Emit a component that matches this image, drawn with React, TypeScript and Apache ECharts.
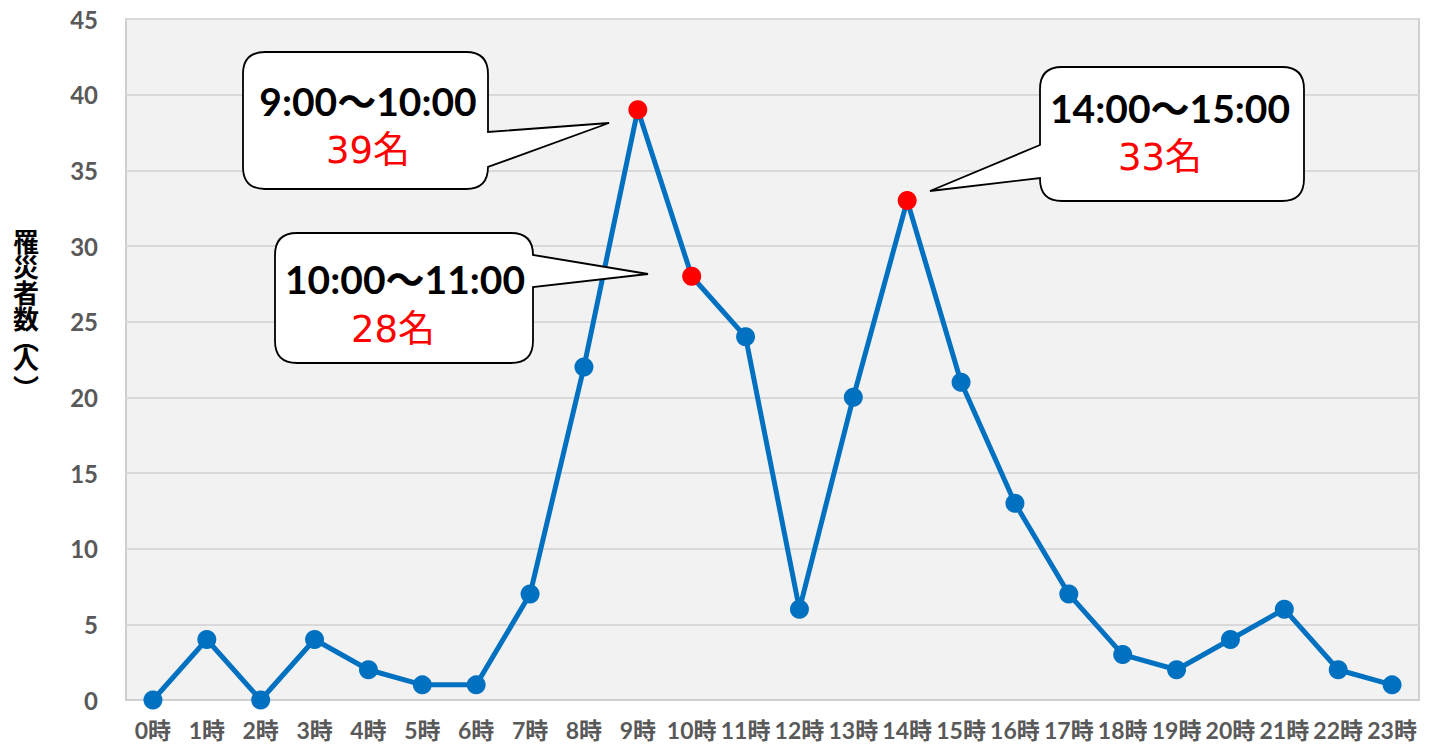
import React, { useEffect, useRef } from "react";
import * as echarts from "echarts";

const hours = ["0時","1時","2時","3時","4時","5時","6時","7時","8時","9時","10時","11時","12時","13時","14時","15時","16時","17時","18時","19時","20時","21時","22時","23時"];
const victims = [0, 4, 0, 4, 2, 1, 1, 7, 22, 39, 28, 24, 6, 20, 33, 21, 13, 7, 3, 2, 4, 6, 2, 1];
const highlighted = [9, 10, 14];
const calloutTimes = ["9:00～10:00", "10:00～11:00", "14:00～15:00"];
const calloutCounts = ["39名", "28名", "33名"];
const yAxisTitle = ["罹", "災", "者", "数", "︵", "人", "︶"];

const BLUE = "#0070c0";
const RED = "#ff0000";

function calloutPath(x0: number, y0: number, x1: number, y1: number, r: number, side: "left" | "right", ta: number, tb: number, tx: number, ty: number) {
  let d = `M${x0 + r},${y0} L${x1 - r},${y0} Q${x1},${y0} ${x1},${y0 + r} `;
  if (side === "right") d += `L${x1},${ta} L${tx},${ty} L${x1},${tb} `;
  d += `L${x1},${y1 - r} Q${x1},${y1} ${x1 - r},${y1} L${x0 + r},${y1} Q${x0},${y1} ${x0},${y1 - r} `;
  if (side === "left") d += `L${x0},${tb} L${tx},${ty} L${x0},${ta} `;
  d += `L${x0},${y0 + r} Q${x0},${y0} ${x0 + r},${y0} Z`;
  return d;
}

const callouts = [
  { box: [243, 52, 488, 189], side: "right" as const, ta: 132, tb: 167, tip: [609, 123], t1: [368, 101], t2: [368, 150] },
  { box: [275, 233, 533, 363], side: "right" as const, ta: 255, tb: 287, tip: [648, 274], t1: [405, 279], t2: [393, 329] },
  { box: [1040, 67, 1304, 201], side: "left" as const, ta: 145, tb: 178, tip: [930, 191], t1: [1170, 108], t2: [1160, 157] },
];

const titleY = [240, 265, 291, 317, 338, 357, 386];

let registered = false;
function registerShapes() {
  if (registered) return;
  callouts.forEach((c, i) => {
    const [x0, y0, x1, y1] = c.box;
    const d = calloutPath(x0, y0, x1, y1, 22, c.side, c.ta, c.tb, c.tip[0], c.tip[1]);
    echarts.graphic.registerShape("callout" + i, echarts.graphic.extendPath(d, {}) as any);
  });
  registered = true;
}

export default function App() {
  const ref = useRef<HTMLDivElement>(null);
  useEffect(() => {
    if (!ref.current) return;
    registerShapes();
    const chart = echarts.init(ref.current, null, { renderer: "svg" });
    const latin = "Lato, 'Noto Sans CJK JP', sans-serif";
    const gothic = "'DejaVu Sans', 'Noto Sans CJK JP', sans-serif";
    const graphics: any[] = [];
    callouts.forEach((c, i) => {
      graphics.push({
        type: "callout" + i,
        x: 0,
        y: 0,
        z: 100,
        style: { fill: "#ffffff", stroke: "#000000", lineWidth: 1.8 },
      });
      graphics.push({
        type: "text",
        z: 101,
        x: c.t1[0],
        y: c.t1[1],
        style: {
          text: calloutTimes[i],
          fill: "#000000",
          fontSize: 39,
          fontWeight: "bold",
          fontFamily: latin,
          align: "center",
          verticalAlign: "middle",
        },
      });
      graphics.push({
        type: "text",
        z: 101,
        x: c.t2[0],
        y: c.t2[1],
        style: {
          text: calloutCounts[i],
          fill: RED,
          fontSize: 37,
          fontWeight: "normal",
          fontFamily: gothic,
          align: "center",
          verticalAlign: "middle",
        },
      });
    });
    yAxisTitle.forEach((ch, i) => {
      graphics.push({
        type: "text",
        x: 26,
        y: titleY[i],
        style: {
          text: ch,
          fill: "#000000",
          fontSize: 26,
          lineHeight: 20,
          fontWeight: "bold",
          fontFamily: "'Noto Sans CJK JP', sans-serif",
          align: "center",
          verticalAlign: "middle",
        },
      });
    });

    chart.setOption({
      animation: false,
      backgroundColor: "#ffffff",
      grid: {
        left: 126,
        right: 13,
        top: 19,
        bottom: 49,
        show: true,
        backgroundColor: "#f2f2f2",
        borderColor: "#cfcfcf",
        borderWidth: 2,
      },
      xAxis: {
        type: "category",
        data: hours,
        boundaryGap: true,
        axisLine: { show: true, lineStyle: { color: "#d0d0d0", width: 2 } },
        axisTick: { show: false },
        axisLabel: {
          interval: 0,
          margin: 18,
          color: "#595959",
          fontWeight: "bold",
          fontSize: 23,
          fontFamily: latin,
        },
      },
      yAxis: {
        type: "value",
        min: 0,
        max: 45,
        interval: 5,
        axisLine: { show: false },
        axisTick: { show: false },
        splitLine: { lineStyle: { color: "#d9d9d9", width: 2 } },
        axisLabel: {
          margin: 28,
          color: "#595959",
          fontWeight: "bold",
          fontSize: 24,
          fontFamily: latin,
        },
      },
      series: [
        {
          type: "line",
          data: victims.map((v, i) => ({
            value: v,
            itemStyle: highlighted.includes(i) ? { color: RED, borderColor: RED } : undefined,
          })),
          symbol: "circle",
          symbolSize: 19,
          lineStyle: { color: BLUE, width: 5 },
          itemStyle: { color: BLUE, borderColor: BLUE, borderWidth: 0 },
          z: 3,
        },
      ],
      graphic: graphics,
    });
    return () => chart.dispose();
  }, []);
  return <div ref={ref} style={{ position: "fixed", left: 0, top: 0, width: 1432, height: 749 }} />;
}
